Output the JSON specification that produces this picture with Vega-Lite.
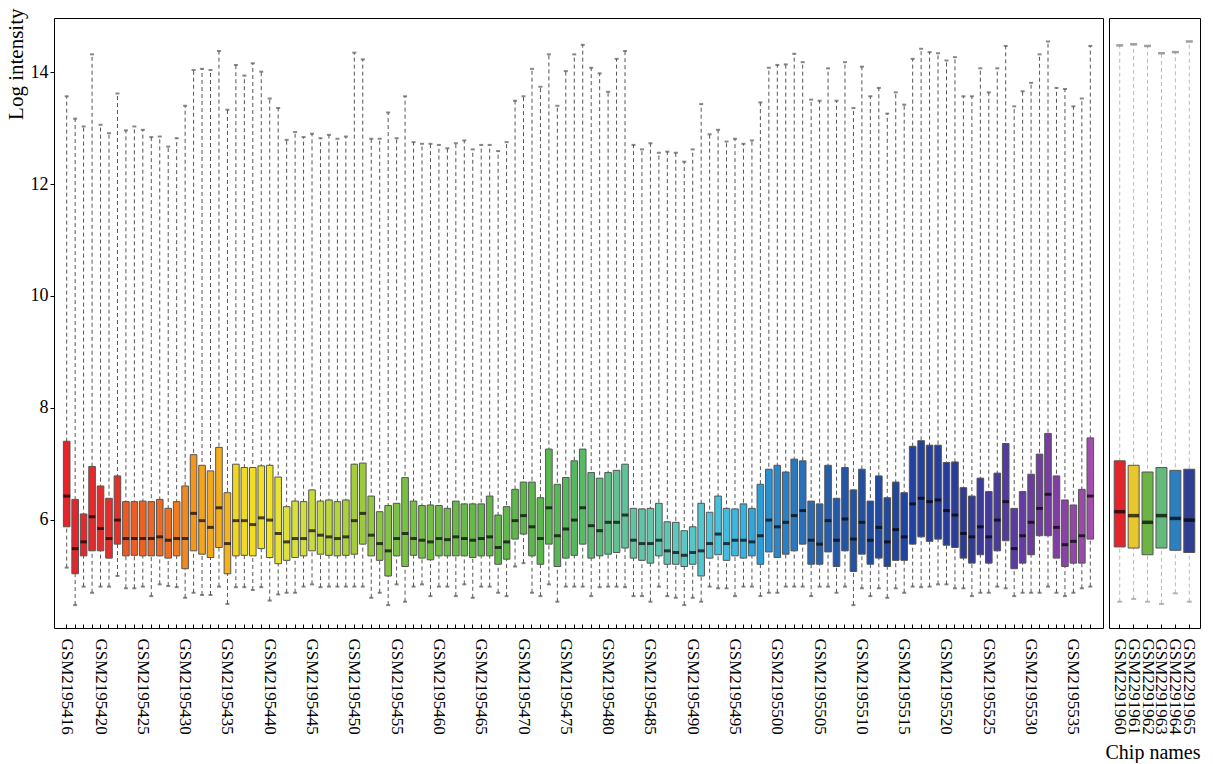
{
"$schema": "https://vega.github.io/schema/vega-lite/v6.json",
"padding": {"left": 4, "top": 7, "right": 5, "bottom": 0},
"spacing": 0,
"config": {"font": "Liberation Serif", "view": {"stroke": "#000", "strokeWidth": 1}, "axis": {"grid": false, "domain": false, "labelFont": "Liberation Serif", "titleFont": "Liberation Serif", "labelColor": "#000", "titleColor": "#000", "tickColor": "#000", "titleFontWeight": "normal"}},
"datasets": {
"left": [
{"chip":"GSM2195416","n":416,"lo":5.14,"q1":5.87,"med":6.42,"q3":7.40,"hi":13.57},
{"chip":"GSM2195417","n":417,"lo":4.47,"q1":5.03,"med":5.48,"q3":6.36,"hi":13.17},
{"chip":"GSM2195418","n":418,"lo":4.80,"q1":5.35,"med":5.60,"q3":6.10,"hi":13.03},
{"chip":"GSM2195419","n":419,"lo":4.69,"q1":5.44,"med":6.05,"q3":6.95,"hi":14.32},
{"chip":"GSM2195420","n":420,"lo":4.80,"q1":5.44,"med":5.84,"q3":6.60,"hi":13.06},
{"chip":"GSM2195421","n":421,"lo":4.80,"q1":5.31,"med":5.66,"q3":6.38,"hi":12.91},
{"chip":"GSM2195422","n":422,"lo":4.99,"q1":5.56,"med":5.99,"q3":6.78,"hi":13.62},
{"chip":"GSM2195423","n":423,"lo":4.77,"q1":5.35,"med":5.66,"q3":6.32,"hi":12.96},
{"chip":"GSM2195424","n":424,"lo":4.77,"q1":5.36,"med":5.66,"q3":6.32,"hi":13.03},
{"chip":"GSM2195425","n":425,"lo":4.80,"q1":5.35,"med":5.66,"q3":6.33,"hi":12.97},
{"chip":"GSM2195426","n":426,"lo":4.63,"q1":5.35,"med":5.66,"q3":6.32,"hi":12.84},
{"chip":"GSM2195427","n":427,"lo":4.84,"q1":5.35,"med":5.69,"q3":6.36,"hi":12.85},
{"chip":"GSM2195428","n":428,"lo":4.81,"q1":5.31,"med":5.63,"q3":6.20,"hi":12.67},
{"chip":"GSM2195429","n":429,"lo":4.79,"q1":5.35,"med":5.66,"q3":6.32,"hi":12.82},
{"chip":"GSM2195430","n":430,"lo":4.60,"q1":5.12,"med":5.66,"q3":6.60,"hi":13.40},
{"chip":"GSM2195431","n":431,"lo":4.69,"q1":5.44,"med":6.11,"q3":7.16,"hi":14.04},
{"chip":"GSM2195432","n":432,"lo":4.65,"q1":5.38,"med":5.98,"q3":6.97,"hi":14.06},
{"chip":"GSM2195433","n":433,"lo":4.65,"q1":5.32,"med":5.86,"q3":6.87,"hi":14.04},
{"chip":"GSM2195434","n":434,"lo":4.80,"q1":5.50,"med":6.21,"q3":7.29,"hi":14.38},
{"chip":"GSM2195435","n":435,"lo":4.49,"q1":5.03,"med":5.57,"q3":6.48,"hi":13.33},
{"chip":"GSM2195436","n":436,"lo":4.79,"q1":5.35,"med":5.98,"q3":6.99,"hi":14.13},
{"chip":"GSM2195437","n":437,"lo":4.79,"q1":5.36,"med":5.98,"q3":6.93,"hi":13.94},
{"chip":"GSM2195438","n":438,"lo":4.74,"q1":5.35,"med":5.91,"q3":6.93,"hi":14.16},
{"chip":"GSM2195439","n":439,"lo":4.79,"q1":5.48,"med":6.03,"q3":6.96,"hi":14.01},
{"chip":"GSM2195440","n":440,"lo":4.55,"q1":5.32,"med":5.99,"q3":6.97,"hi":13.53},
{"chip":"GSM2195441","n":441,"lo":4.66,"q1":5.21,"med":5.75,"q3":6.76,"hi":13.36},
{"chip":"GSM2195442","n":442,"lo":4.69,"q1":5.27,"med":5.60,"q3":6.23,"hi":12.79},
{"chip":"GSM2195443","n":443,"lo":4.69,"q1":5.32,"med":5.66,"q3":6.33,"hi":12.93},
{"chip":"GSM2195444","n":444,"lo":4.80,"q1":5.35,"med":5.66,"q3":6.32,"hi":12.84},
{"chip":"GSM2195445","n":445,"lo":4.84,"q1":5.44,"med":5.80,"q3":6.53,"hi":12.90},
{"chip":"GSM2195446","n":446,"lo":4.79,"q1":5.38,"med":5.72,"q3":6.33,"hi":12.82},
{"chip":"GSM2195447","n":447,"lo":4.80,"q1":5.36,"med":5.69,"q3":6.35,"hi":12.88},
{"chip":"GSM2195448","n":448,"lo":4.80,"q1":5.35,"med":5.66,"q3":6.32,"hi":12.81},
{"chip":"GSM2195449","n":449,"lo":4.80,"q1":5.36,"med":5.69,"q3":6.35,"hi":12.85},
{"chip":"GSM2195450","n":450,"lo":4.80,"q1":5.38,"med":5.98,"q3":6.99,"hi":14.35},
{"chip":"GSM2195451","n":451,"lo":4.80,"q1":5.56,"med":6.11,"q3":7.01,"hi":14.23},
{"chip":"GSM2195452","n":452,"lo":4.60,"q1":5.35,"med":5.72,"q3":6.42,"hi":12.81},
{"chip":"GSM2195453","n":453,"lo":4.69,"q1":5.27,"med":5.57,"q3":6.14,"hi":12.81},
{"chip":"GSM2195454","n":454,"lo":4.47,"q1":4.99,"med":5.44,"q3":6.25,"hi":13.28},
{"chip":"GSM2195455","n":455,"lo":4.84,"q1":5.35,"med":5.66,"q3":6.29,"hi":12.82},
{"chip":"GSM2195456","n":456,"lo":4.53,"q1":5.16,"med":5.75,"q3":6.75,"hi":13.57},
{"chip":"GSM2195457","n":457,"lo":4.80,"q1":5.36,"med":5.66,"q3":6.33,"hi":12.75},
{"chip":"GSM2195458","n":458,"lo":4.84,"q1":5.31,"med":5.63,"q3":6.25,"hi":12.72},
{"chip":"GSM2195459","n":459,"lo":4.63,"q1":5.28,"med":5.60,"q3":6.26,"hi":12.72},
{"chip":"GSM2195460","n":460,"lo":4.80,"q1":5.35,"med":5.66,"q3":6.25,"hi":12.70},
{"chip":"GSM2195461","n":461,"lo":4.80,"q1":5.35,"med":5.64,"q3":6.20,"hi":12.64},
{"chip":"GSM2195462","n":462,"lo":4.63,"q1":5.35,"med":5.69,"q3":6.33,"hi":12.73},
{"chip":"GSM2195463","n":463,"lo":4.84,"q1":5.35,"med":5.66,"q3":6.28,"hi":12.78},
{"chip":"GSM2195464","n":464,"lo":4.60,"q1":5.32,"med":5.63,"q3":6.28,"hi":12.62},
{"chip":"GSM2195465","n":465,"lo":4.80,"q1":5.35,"med":5.66,"q3":6.28,"hi":12.70},
{"chip":"GSM2195466","n":466,"lo":4.80,"q1":5.35,"med":5.69,"q3":6.42,"hi":12.70},
{"chip":"GSM2195467","n":467,"lo":4.69,"q1":5.20,"med":5.50,"q3":6.08,"hi":12.59},
{"chip":"GSM2195468","n":468,"lo":4.63,"q1":5.29,"med":5.60,"q3":6.23,"hi":12.75},
{"chip":"GSM2195469","n":469,"lo":5.16,"q1":5.65,"med":5.98,"q3":6.54,"hi":13.49},
{"chip":"GSM2195470","n":470,"lo":5.22,"q1":5.74,"med":6.07,"q3":6.67,"hi":13.57},
{"chip":"GSM2195471","n":471,"lo":4.69,"q1":5.35,"med":5.87,"q3":6.67,"hi":14.06},
{"chip":"GSM2195472","n":472,"lo":4.63,"q1":5.20,"med":5.66,"q3":6.39,"hi":13.74},
{"chip":"GSM2195473","n":473,"lo":4.84,"q1":5.56,"med":6.21,"q3":7.26,"hi":14.32},
{"chip":"GSM2195474","n":474,"lo":4.53,"q1":5.16,"med":5.71,"q3":6.63,"hi":13.40},
{"chip":"GSM2195475","n":475,"lo":4.80,"q1":5.31,"med":5.83,"q3":6.75,"hi":14.02},
{"chip":"GSM2195476","n":476,"lo":4.80,"q1":5.36,"med":5.99,"q3":7.05,"hi":14.32},
{"chip":"GSM2195477","n":477,"lo":4.80,"q1":5.56,"med":6.21,"q3":7.26,"hi":14.49},
{"chip":"GSM2195478","n":478,"lo":4.63,"q1":5.31,"med":5.89,"q3":6.84,"hi":14.08},
{"chip":"GSM2195479","n":479,"lo":4.79,"q1":5.35,"med":5.80,"q3":6.74,"hi":13.98},
{"chip":"GSM2195480","n":480,"lo":4.80,"q1":5.38,"med":5.95,"q3":6.84,"hi":13.65},
{"chip":"GSM2195481","n":481,"lo":4.80,"q1":5.41,"med":5.95,"q3":6.88,"hi":14.24},
{"chip":"GSM2195482","n":482,"lo":4.79,"q1":5.49,"med":6.08,"q3":6.99,"hi":14.38},
{"chip":"GSM2195483","n":483,"lo":4.63,"q1":5.31,"med":5.63,"q3":6.20,"hi":12.70},
{"chip":"GSM2195484","n":484,"lo":4.63,"q1":5.27,"med":5.57,"q3":6.19,"hi":12.62},
{"chip":"GSM2195485","n":485,"lo":4.53,"q1":5.22,"med":5.57,"q3":6.20,"hi":12.73},
{"chip":"GSM2195486","n":486,"lo":4.80,"q1":5.35,"med":5.63,"q3":6.29,"hi":12.56},
{"chip":"GSM2195487","n":487,"lo":4.63,"q1":5.20,"med":5.44,"q3":5.96,"hi":12.58},
{"chip":"GSM2195488","n":488,"lo":4.60,"q1":5.20,"med":5.41,"q3":5.95,"hi":12.56},
{"chip":"GSM2195489","n":489,"lo":4.47,"q1":5.16,"med":5.36,"q3":5.80,"hi":12.40},
{"chip":"GSM2195490","n":490,"lo":4.60,"q1":5.20,"med":5.41,"q3":5.87,"hi":12.62},
{"chip":"GSM2195491","n":491,"lo":4.53,"q1":4.99,"med":5.44,"q3":6.29,"hi":13.43},
{"chip":"GSM2195492","n":492,"lo":4.80,"q1":5.31,"med":5.57,"q3":6.13,"hi":12.89},
{"chip":"GSM2195493","n":493,"lo":4.77,"q1":5.37,"med":5.74,"q3":6.42,"hi":12.97},
{"chip":"GSM2195494","n":494,"lo":4.77,"q1":5.27,"med":5.57,"q3":6.20,"hi":12.76},
{"chip":"GSM2195495","n":495,"lo":4.63,"q1":5.35,"med":5.63,"q3":6.19,"hi":12.81},
{"chip":"GSM2195496","n":496,"lo":4.80,"q1":5.31,"med":5.63,"q3":6.28,"hi":12.72},
{"chip":"GSM2195497","n":497,"lo":4.80,"q1":5.35,"med":5.60,"q3":6.20,"hi":12.78},
{"chip":"GSM2195498","n":498,"lo":4.63,"q1":5.20,"med":5.71,"q3":6.63,"hi":13.46},
{"chip":"GSM2195499","n":499,"lo":4.69,"q1":5.42,"med":5.99,"q3":6.90,"hi":14.08},
{"chip":"GSM2195500","n":500,"lo":4.69,"q1":5.32,"med":5.87,"q3":6.97,"hi":14.13},
{"chip":"GSM2195501","n":501,"lo":4.80,"q1":5.38,"med":5.95,"q3":6.85,"hi":14.14},
{"chip":"GSM2195502","n":502,"lo":4.80,"q1":5.44,"med":6.07,"q3":7.08,"hi":14.33},
{"chip":"GSM2195503","n":503,"lo":4.80,"q1":5.56,"med":6.16,"q3":7.05,"hi":14.18},
{"chip":"GSM2195504","n":504,"lo":4.63,"q1":5.20,"med":5.63,"q3":6.33,"hi":13.51},
{"chip":"GSM2195505","n":505,"lo":4.80,"q1":5.20,"med":5.56,"q3":6.28,"hi":13.49},
{"chip":"GSM2195506","n":506,"lo":4.80,"q1":5.42,"med":5.98,"q3":6.97,"hi":14.07},
{"chip":"GSM2195507","n":507,"lo":4.69,"q1":5.16,"med":5.63,"q3":6.38,"hi":13.49},
{"chip":"GSM2195508","n":508,"lo":4.80,"q1":5.44,"med":6.01,"q3":6.93,"hi":14.18},
{"chip":"GSM2195509","n":509,"lo":4.47,"q1":5.07,"med":5.65,"q3":6.53,"hi":13.36},
{"chip":"GSM2195510","n":510,"lo":4.77,"q1":5.38,"med":5.95,"q3":6.90,"hi":14.10},
{"chip":"GSM2195511","n":511,"lo":4.63,"q1":5.20,"med":5.63,"q3":6.33,"hi":13.57},
{"chip":"GSM2195512","n":512,"lo":4.77,"q1":5.31,"med":5.86,"q3":6.78,"hi":13.72},
{"chip":"GSM2195513","n":513,"lo":4.60,"q1":5.16,"med":5.60,"q3":6.39,"hi":13.26},
{"chip":"GSM2195514","n":514,"lo":4.77,"q1":5.27,"med":5.82,"q3":6.67,"hi":13.64},
{"chip":"GSM2195515","n":515,"lo":4.69,"q1":5.27,"med":5.69,"q3":6.48,"hi":13.42},
{"chip":"GSM2195516","n":516,"lo":4.80,"q1":5.56,"med":6.28,"q3":7.31,"hi":14.24},
{"chip":"GSM2195517","n":517,"lo":4.79,"q1":5.69,"med":6.38,"q3":7.41,"hi":14.42},
{"chip":"GSM2195518","n":518,"lo":4.80,"q1":5.61,"med":6.32,"q3":7.33,"hi":14.36},
{"chip":"GSM2195519","n":519,"lo":4.84,"q1":5.65,"med":6.35,"q3":7.33,"hi":14.34},
{"chip":"GSM2195520","n":520,"lo":4.84,"q1":5.54,"med":6.16,"q3":7.02,"hi":14.21},
{"chip":"GSM2195521","n":521,"lo":4.77,"q1":5.50,"med":6.08,"q3":7.03,"hi":14.27},
{"chip":"GSM2195522","n":522,"lo":4.77,"q1":5.31,"med":5.75,"q3":6.57,"hi":13.57},
{"chip":"GSM2195523","n":523,"lo":4.63,"q1":5.22,"med":5.69,"q3":6.42,"hi":13.57},
{"chip":"GSM2195524","n":524,"lo":4.69,"q1":5.37,"med":5.87,"q3":6.74,"hi":14.07},
{"chip":"GSM2195525","n":525,"lo":4.69,"q1":5.22,"med":5.69,"q3":6.50,"hi":13.64},
{"chip":"GSM2195526","n":526,"lo":4.80,"q1":5.44,"med":5.99,"q3":6.83,"hi":14.07},
{"chip":"GSM2195527","n":527,"lo":4.77,"q1":5.62,"med":6.32,"q3":7.36,"hi":14.47},
{"chip":"GSM2195528","n":528,"lo":4.63,"q1":5.12,"med":5.48,"q3":6.20,"hi":13.39},
{"chip":"GSM2195529","n":529,"lo":4.69,"q1":5.22,"med":5.71,"q3":6.50,"hi":13.66},
{"chip":"GSM2195530","n":530,"lo":4.69,"q1":5.37,"med":5.95,"q3":6.81,"hi":13.81},
{"chip":"GSM2195531","n":531,"lo":4.69,"q1":5.71,"med":6.20,"q3":7.17,"hi":14.32},
{"chip":"GSM2195532","n":532,"lo":4.80,"q1":5.71,"med":6.45,"q3":7.54,"hi":14.55},
{"chip":"GSM2195533","n":533,"lo":4.69,"q1":5.31,"med":5.86,"q3":6.78,"hi":13.72},
{"chip":"GSM2195534","n":534,"lo":4.63,"q1":5.16,"med":5.55,"q3":6.35,"hi":13.70},
{"chip":"GSM2195535","n":535,"lo":4.69,"q1":5.22,"med":5.61,"q3":6.26,"hi":13.39},
{"chip":"GSM2195536","n":536,"lo":4.77,"q1":5.22,"med":5.71,"q3":6.54,"hi":13.53},
{"chip":"GSM2195537","n":537,"lo":4.80,"q1":5.65,"med":6.42,"q3":7.46,"hi":14.47}
],
"right": [
{"chip":"GSM2291960","lo":4.53,"q1":5.51,"med":6.14,"q3":7.05,"hi":14.48},
{"chip":"GSM2291961","lo":4.58,"q1":5.49,"med":6.07,"q3":6.97,"hi":14.50},
{"chip":"GSM2291962","lo":4.53,"q1":5.37,"med":5.95,"q3":6.85,"hi":14.47},
{"chip":"GSM2291963","lo":4.49,"q1":5.49,"med":6.07,"q3":6.93,"hi":14.34},
{"chip":"GSM2291964","lo":4.68,"q1":5.45,"med":6.02,"q3":6.88,"hi":14.36},
{"chip":"GSM2291965","lo":4.53,"q1":5.41,"med":5.99,"q3":6.90,"hi":14.55}
]
},
"hconcat": [
{
"width": 1049, "height": 610,
"data": {"name": "left"},
"encoding": {"x": {"field": "chip", "type": "nominal", "sort": null, "scale": {"type": "band", "paddingInner": 0, "paddingOuter": 2.15}, "axis": {"title": null, "labelAngle": 90, "labelAlign": "left", "labelBaseline": "middle", "labelFontSize": 17, "tickSize": -4, "labelPadding": 14, "labelOverlap": false, "labelExpr": "(datum.value == 'GSM2195416' || toNumber(substring(datum.value, 7)) % 5 == 0) ? datum.value : ''"}}},
"layer": [
{"mark": {"type": "rule", "color": "#555", "strokeWidth": 1, "strokeDash": [4, 3]},
 "encoding": {"y": {"field": "lo", "type": "quantitative", "scale": {"domain": [4.06, 14.97], "nice": false, "zero": false}, "axis": {"values": [6, 8, 10, 12, 14], "format": "d", "title": "Log intensity", "titleFontSize": 21, "titleAnchor": "end", "titleY": -10, "titlePadding": 4, "labelFontSize": 18, "tickSize": 4, "labelPadding": 2}}, "y2": {"field": "hi"}}},
{"mark": {"type": "tick", "color": "#555", "size": 4, "thickness": 2}, "encoding": {"y": {"field": "hi", "type": "quantitative"}}},
{"mark": {"type": "tick", "color": "#555", "size": 4, "thickness": 2}, "encoding": {"y": {"field": "lo", "type": "quantitative"}}},
{"mark": {"type": "bar", "size": 6.6, "stroke": "#555", "strokeWidth": 1},
 "encoding": {"y": {"field": "q1", "type": "quantitative"}, "y2": {"field": "q3"},
  "color": {"field": "n", "type": "quantitative", "legend": null, "scale": {"domain": [416, 422, 423, 428, 430, 432, 435, 436, 440, 442, 446, 450, 455, 465, 472, 476, 480, 482, 488, 492, 496, 499, 503, 507, 512, 517, 522, 526, 530, 533, 537], "range": ["#e3242b", "#e5302a", "#eb5a24", "#ee6e22", "#f08a20", "#f5a21c", "#f5b21a", "#f2d622", "#f2e424", "#dde23a", "#c4da3c", "#a4cc3c", "#7cc242", "#62b848", "#5ab84a", "#55b860", "#5cbf84", "#5fc39a", "#5ec8b8", "#4ec6d8", "#2fb4e6", "#2a90d0", "#2a70b8", "#2358a8", "#1f4aa0", "#2240a0", "#2d3a98", "#4a3a9e", "#6a3ca0", "#803ea2", "#a050aa"], "interpolate": "rgb"}}}},
{"mark": {"type": "tick", "color": "#000", "size": 6.6, "thickness": 3}, "encoding": {"y": {"field": "med", "type": "quantitative"}}}
]
},
{
"width": 91, "height": 610,
"data": {"name": "right"},
"encoding": {"x": {"field": "chip", "type": "nominal", "sort": null, "scale": {"type": "band", "paddingInner": 0, "paddingOuter": 0.27}, "axis": {"title": "Chip names", "titleFontSize": 20, "titleAnchor": "end", "titlePadding": 8, "labelAngle": 90, "labelAlign": "left", "labelBaseline": "middle", "labelFontSize": 17, "tickSize": -4, "labelPadding": 14, "labelOverlap": false}}},
"layer": [
{"mark": {"type": "rule", "color": "#bbb", "strokeWidth": 1, "strokeDash": [4, 3]},
 "encoding": {"y": {"field": "lo", "type": "quantitative", "scale": {"domain": [4.06, 14.97], "nice": false, "zero": false}, "axis": null}, "y2": {"field": "hi"}}},
{"mark": {"type": "tick", "color": "#777", "size": 7, "thickness": 2.5}, "encoding": {"y": {"field": "hi", "type": "quantitative"}}},
{"mark": {"type": "tick", "color": "#999", "size": 5, "thickness": 2}, "encoding": {"y": {"field": "lo", "type": "quantitative"}}},
{"mark": {"type": "bar", "size": 11, "stroke": "#555", "strokeWidth": 1},
 "encoding": {"y": {"field": "q1", "type": "quantitative"}, "y2": {"field": "q3"},
  "color": {"field": "chip", "type": "nominal", "legend": null, "scale": {"range": ["#e3242b", "#e8c72c", "#6cb545", "#63ba7c", "#2c80c1", "#2e3e93"]}}}},
{"mark": {"type": "tick", "color": "#000", "size": 11, "thickness": 3.5}, "encoding": {"y": {"field": "med", "type": "quantitative"}}}
]
}
],
"resolve": {"scale": {"x": "independent", "y": "independent", "color": "independent"}}
}
